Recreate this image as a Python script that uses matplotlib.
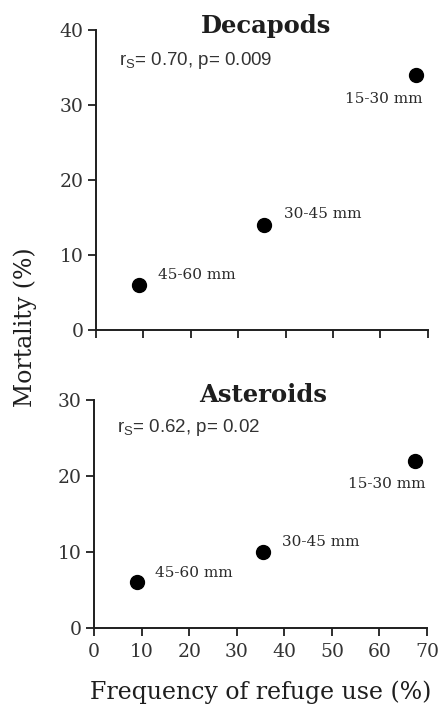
import matplotlib.pyplot as plt

# Decapods panel
dec_refuge = [9, 35.5, 67.5]
dec_mortality = [6, 14, 34]
dec_labels = ['45-60 mm', '30-45 mm', '15-30 mm']

# Asteroids panel
ast_refuge = [9, 35.5, 67.5]
ast_mortality = [6, 10, 22]
ast_labels = ['45-60 mm', '30-45 mm', '15-30 mm']

serif = 'DejaVu Serif'
sans = 'Liberation Sans'
ink = '#1e1e1e'

fig = plt.figure(figsize=(4.42, 7.05), dpi=100)
ax1 = fig.add_axes([0.217, 0.532, 0.751, 0.425])
ax2 = fig.add_axes([0.213, 0.109, 0.753, 0.324])


def style(ax, ymax, yticks, show_xlabels):
    ax.set_xlim(0, 70)
    ax.set_ylim(0, ymax)
    ax.set_xticks(range(0, 71, 10))
    ax.set_yticks(yticks)
    for s in ['top', 'right']:
        ax.spines[s].set_visible(False)
    for s in ['left', 'bottom']:
        ax.spines[s].set_linewidth(1.4)
        ax.spines[s].set_color(ink)
    ax.tick_params(direction='out', length=6, width=1.3, labelsize=13.5,
                   colors=ink, pad=3)
    ax.tick_params(axis='x', pad=5)
    for lab in ax.get_yticklabels() + ax.get_xticklabels():
        lab.set_fontfamily(serif)
        lab.set_color('#333333')
    if not show_xlabels:
        ax.tick_params(axis='x', labelbottom=False)


def label_points(ax, x, y, labels, offsets):
    for xi, yi, lab, off in zip(x, y, labels, offsets):
        ax.annotate(lab, (xi, yi), xytext=off, textcoords='offset points',
                    fontsize=11, family=serif, color='#2a2a2a',
                    ha='left', va='center')


ax1.scatter(dec_refuge, dec_mortality, s=100, color='black', zorder=3, clip_on=False)
style(ax1, 40, [0, 10, 20, 30, 40], False)
ax1.text(0.07, 0.935, r'r$_\mathregular{S}$= 0.70, p= 0.009', transform=ax1.transAxes,
         fontsize=13.5, family=sans, color='#333333', va='top')
label_points(ax1, dec_refuge, dec_mortality, dec_labels, [(14, 7), (14, 8), (-51, -17)])

ax2.scatter(ast_refuge, ast_mortality, s=100, color='black', zorder=3, clip_on=False)
style(ax2, 30, [0, 10, 20, 30], True)
ax2.text(0.07, 0.925, r'r$_\mathregular{S}$= 0.62, p= 0.02', transform=ax2.transAxes,
         fontsize=13.5, family=sans, color='#333333', va='top')
label_points(ax2, ast_refuge, ast_mortality, ast_labels, [(13, 7), (14, 7), (-48, -17)])

fig.text(266 / 442, 1 - 33 / 705, 'Decapods', fontsize=17.5, fontweight='bold',
         family=serif, color=ink, ha='center', va='baseline')
fig.text(263 / 442, 1 - 402 / 705, 'Asteroids', fontsize=17.5, fontweight='bold',
         family=serif, color=ink, ha='center', va='baseline')
fig.text(261 / 442, 1 - 699 / 705, 'Frequency of refuge use (%)', fontsize=17,
         family=serif, color=ink, ha='center', va='baseline')
fig.text(25 / 442, 1 - 327 / 705, 'Mortality (%)', rotation=90, fontsize=17,
         family=serif, color=ink, ha='center', va='center')

fig.savefig('out.png', dpi=100)
